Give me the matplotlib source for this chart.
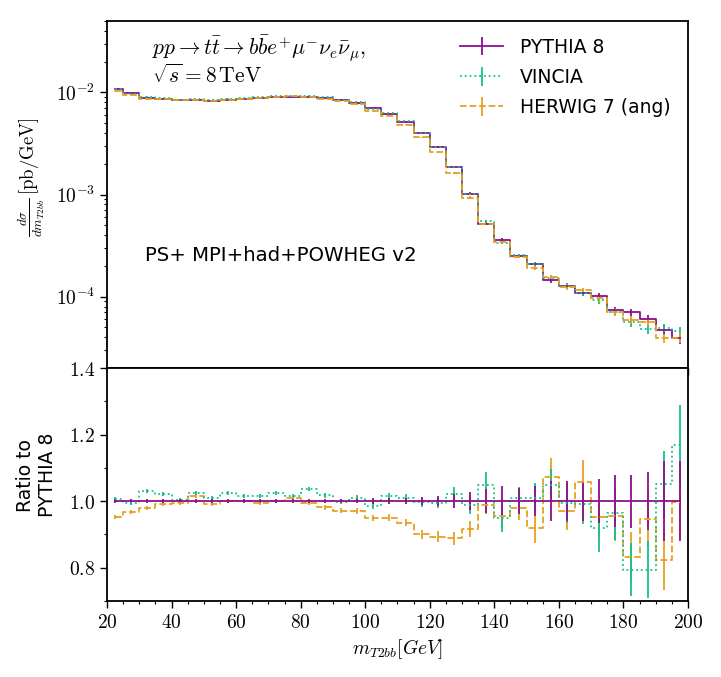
import numpy as np
import matplotlib
matplotlib.use('Agg')
import matplotlib.pyplot as plt
from matplotlib.ticker import MultipleLocator, FuncFormatter, NullFormatter

plt.rcParams['mathtext.fontset'] = 'cm'
plt.rcParams['font.family'] = 'DejaVu Sans'

# bin centres (GeV)
x = [22.5, 27.5, 32.5, 37.5, 42.5, 47.5, 52.5, 57.5, 62.5, 67.5, 72.5, 77.5,
     82.5, 87.5, 92.5, 97.5, 102.5, 107.5, 112.5, 117.5, 122.5, 127.5, 132.5,
     137.5, 142.5, 147.5, 152.5, 157.5, 162.5, 167.5, 172.5, 177.5, 182.5,
     187.5, 192.5, 197.5]

# PYTHIA 8 distribution (pb/GeV)
pythia = [0.01077, 0.00978, 0.00879, 0.00867, 0.00848, 0.00835, 0.00829,
          0.00848, 0.00867, 0.00879, 0.00893, 0.00907, 0.00899, 0.00879,
          0.00850, 0.00789, 0.00697, 0.00618, 0.00516, 0.00403, 0.00291,
          0.00184, 0.00102, 5.2e-4, 3.57e-4, 2.52e-4, 2.09e-4, 1.445e-4,
          1.28e-4, 1.09e-4, 1.007e-4, 7.34e-5, 7.08e-5, 6.04e-5, 4.74e-5,
          3.93e-5]
pythia_err = [0.005] * 13 + [0.006, 0.006, 0.007, 0.008, 0.009, 0.010, 0.012,
              0.015, 0.020, 0.027, 0.035, 0.045, 0.040, 0.045, 0.060, 0.060,
              0.060, 0.067, 0.078, 0.080, 0.088, 0.120, 0.120]

# ratios to PYTHIA 8
vincia = [1.007, 0.994, 1.031, 1.020, 1.004, 1.023, 1.009, 1.024, 1.015,
          1.016, 1.024, 1.014, 1.035, 1.017, 0.998, 1.009, 0.985, 1.014,
          1.009, 0.996, 0.995, 1.020, 0.988, 1.048, 0.948, 1.008, 1.008,
          1.048, 0.995, 0.990, 0.918, 0.963, 0.794, 0.794, 1.050, 1.170]
vincia_err = [0.006] * 13 + [0.007, 0.007, 0.008, 0.009, 0.010, 0.011, 0.013,
              0.016, 0.022, 0.028, 0.039, 0.040, 0.033, 0.045, 0.050, 0.060,
              0.060, 0.070, 0.080, 0.080, 0.085, 0.100, 0.120]

herwig = [0.952, 0.968, 0.979, 0.991, 0.993, 1.015, 0.992, 1.000, 1.000,
          0.993, 1.000, 1.008, 0.993, 0.981, 0.971, 0.970, 0.950, 0.950,
          0.935, 0.900, 0.893, 0.888, 0.916, 0.988, 0.956, 0.978, 0.918,
          1.073, 0.971, 1.058, 0.953, 0.956, 0.831, 0.945, 0.824, 0.997]
herwig_err = [0.006] * 13 + [0.007, 0.007, 0.008, 0.009, 0.010, 0.011, 0.013,
              0.016, 0.020, 0.025, 0.028, 0.030, 0.035, 0.045, 0.058, 0.057,
              0.066, 0.065, 0.077, 0.075, 0.082, 0.090, 0.112]

labels = ['PYTHIA 8', 'VINCIA', 'HERWIG 7 (ang)']
colors = ['#8e0f8e', '#14c08a', '#e6a11c']
styles = ['-', ':', '--']

P = np.array(pythia)
ratios = [np.ones_like(P), np.array(vincia), np.array(herwig)]
errs = [np.array(pythia_err), np.array(vincia_err), np.array(herwig_err)]

fig = plt.figure(figsize=(7.21, 6.77), dpi=100)
ax = fig.add_axes([0.1484, 0.4564, 0.8058, 0.5126])
axr = fig.add_axes([0.1484, 0.1123, 0.8058, 0.3441], sharex=ax)

for r, e, lab, c, ls in zip(ratios, errs, labels, colors, styles):
    ax.errorbar(x, P * r, yerr=P * e, color=c, ls=ls, lw=1.3, elinewidth=1.3,
                drawstyle='steps-mid', label=lab)
for r, e, lab, c, ls in zip(ratios[::-1], errs[::-1], labels[::-1],
                            colors[::-1], styles[::-1]):
    axr.errorbar(x, r, yerr=e, color=c, ls=ls, lw=1.3, elinewidth=1.3,
                 drawstyle='steps-mid')

ax.set_yscale('log')
ax.set_ylim(2e-5, 5e-2)
ax.set_xlim(20, 200)
ax.yaxis.set_major_formatter(
    FuncFormatter(lambda v, p: r'$10^{%d}$' % int(round(np.log10(v)))))
ax.yaxis.set_minor_formatter(NullFormatter())
ax.tick_params(labelbottom=False)
ax.set_ylabel(r'$\frac{d\sigma}{dm_{T2bb}}\,[\mathrm{pb/GeV}]$', fontsize=13.5)
ax.yaxis.set_label_coords(-0.103, 0.55)

ax.text(0.077, 0.962, r'$pp \to t\bar{t} \to b\bar{b}e^{+}\mu^{-}\nu_{e}\bar{\nu}_{\mu},$',
        transform=ax.transAxes, fontsize=15.5, va='top')
ax.text(0.077, 0.876, r'$\sqrt{s} = 8\,\mathrm{TeV}$',
        transform=ax.transAxes, fontsize=15.5, va='top')
ax.text(0.065, 0.323, 'PS+ MPI+had+POWHEG v2', transform=ax.transAxes,
        fontsize=14.2, va='center')

ax.legend(loc='upper left', bbox_to_anchor=(0.595, 0.974), frameon=False,
          fontsize=13.5, handlelength=2.3, handletextpad=0.9, labelspacing=0.6,
          borderaxespad=0)

axr.set_ylim(0.7, 1.4)
axr.yaxis.set_major_locator(MultipleLocator(0.2))
axr.yaxis.set_minor_locator(MultipleLocator(0.1))
axr.yaxis.set_major_formatter(FuncFormatter(lambda v, p: f'${v:.1f}$'))
axr.xaxis.set_major_locator(MultipleLocator(20))
axr.xaxis.set_minor_locator(MultipleLocator(5))
axr.xaxis.set_major_formatter(FuncFormatter(lambda v, p: f'${v:.0f}$'))
axr.set_xlabel(r'$m_{T2bb}[GeV]$', fontsize=14)
axr.set_ylabel('Ratio to\nPYTHIA 8', fontsize=13.5)
axr.yaxis.set_label_coords(-0.086, 0.54)

for a in (ax, axr):
    a.tick_params(which='major', length=5, width=1, labelsize=14)
    a.tick_params(which='minor', length=2.5, width=0.8)
    for s in a.spines.values():
        s.set_linewidth(1.3)

fig.savefig('out.png', dpi=100)
